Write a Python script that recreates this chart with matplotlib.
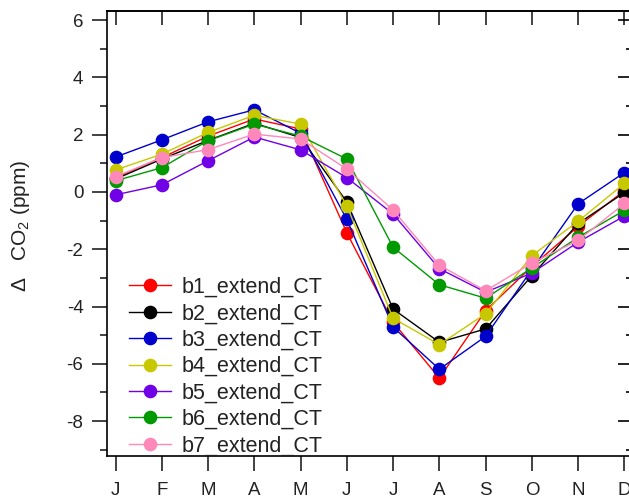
import matplotlib
matplotlib.use("Agg")
import matplotlib.pyplot as plt
from matplotlib.ticker import MultipleLocator

plt.rcParams['font.family'] = ['Liberation Sans', 'DejaVu Sans']
plt.rcParams['mathtext.fontset'] = 'custom'
plt.rcParams['mathtext.rm'] = 'Liberation Sans'
plt.rcParams['mathtext.it'] = 'Liberation Sans:italic'
plt.rcParams['axes.unicode_minus'] = False

months = ['J', 'F', 'M', 'A', 'M', 'J', 'J', 'A', 'S', 'O', 'N', 'D']
labels = ['b1_extend_CT', 'b2_extend_CT', 'b3_extend_CT', 'b4_extend_CT',
          'b5_extend_CT', 'b6_extend_CT', 'b7_extend_CT']
colors = ['#ff0000', '#000000', '#0000cc', '#c8c800', '#7000e6', '#009900', '#ff88bb']

b1 = [0.50, 1.20, 1.95, 2.55, 2.20, -1.43, -4.55, -6.50, -4.14, -2.60, -1.20, 0.05]
b2 = [0.45, 1.15, 1.80, 2.40, 1.90, -0.35, -4.09, -5.25, -4.78, -2.92, -1.10, -0.02]
b3 = [1.22, 1.82, 2.45, 2.87, 2.05, -0.96, -4.72, -6.19, -5.04, -2.70, -0.41, 0.68]
b4 = [0.77, 1.32, 2.08, 2.68, 2.37, -0.49, -4.41, -5.33, -4.25, -2.22, -1.02, 0.30]
b5 = [-0.10, 0.25, 1.09, 1.92, 1.47, 0.50, -0.77, -2.68, -3.50, -2.83, -1.75, -0.84]
b6 = [0.39, 0.85, 1.79, 2.37, 1.95, 1.15, -1.93, -3.24, -3.71, -2.65, -1.58, -0.64]
b7 = [0.53, 1.20, 1.48, 2.02, 1.85, 0.80, -0.63, -2.56, -3.45, -2.48, -1.69, -0.40]
series = [b1, b2, b3, b4, b5, b6, b7]

W, H = 629, 500
fig = plt.figure(figsize=(W / 100, H / 100), dpi=100)
left, right, top, bottom = 107, 633, 11, 456
ax = fig.add_axes([left / W, 1 - bottom / H, (right - left) / W, (bottom - top) / H])

x = list(range(12))
for s, c, lab in zip(series, colors, labels):
    ax.plot(x, s, '-o', color=c, lw=1.0, ms=8.8, label=lab)

ax.set_xlim(-0.184, 11.184)
ax.set_ylim(-9.22, 6.32)
ax.set_xticks(x)
ax.set_xticklabels(months)
ax.yaxis.set_major_locator(MultipleLocator(2))
ax.yaxis.set_minor_locator(MultipleLocator(1))
for sp in ax.spines.values():
    sp.set_linewidth(1.2)
ax.tick_params(axis='both', which='major', direction='out', length=11, width=1.2,
               labelsize=13.5, colors='#222222')
ax.tick_params(axis='y', which='minor', direction='out', length=5, width=1.2, colors='#222222')
ax.tick_params(axis='y', which='major', pad=6)
ax.tick_params(axis='x', which='major', pad=8)

# mirrored inward ticks on top and right
axt = ax.secondary_xaxis('top')
axt.set_xticks(x)
axt.tick_params(direction='in', length=10, width=1.2, labeltop=False, colors='#222222')
axt.spines['top'].set_linewidth(1.2)
axr = ax.secondary_yaxis('right')
axr.yaxis.set_major_locator(MultipleLocator(2))
axr.yaxis.set_minor_locator(MultipleLocator(1))
axr.tick_params(which='major', direction='in', length=11, width=1.2, labelright=False)
axr.tick_params(which='minor', direction='in', length=5, width=1.2)

ax.set_ylabel(r'$\Delta$   CO$_2$ (ppm)', fontsize=15, color='#222222')
ax.yaxis.set_label_coords(-0.143, 0.517)

leg = ax.legend(loc='upper left', bbox_to_anchor=(129 / W, 1 - 277 / H),
                bbox_transform=fig.transFigure, frameon=False, fontsize=15.5,
                handlelength=1.95, handletextpad=0.5, labelspacing=0.25, borderpad=0,
                borderaxespad=0)
for t in leg.get_texts():
    t.set_color('#222222')

fig.savefig('out.png', dpi=100)
